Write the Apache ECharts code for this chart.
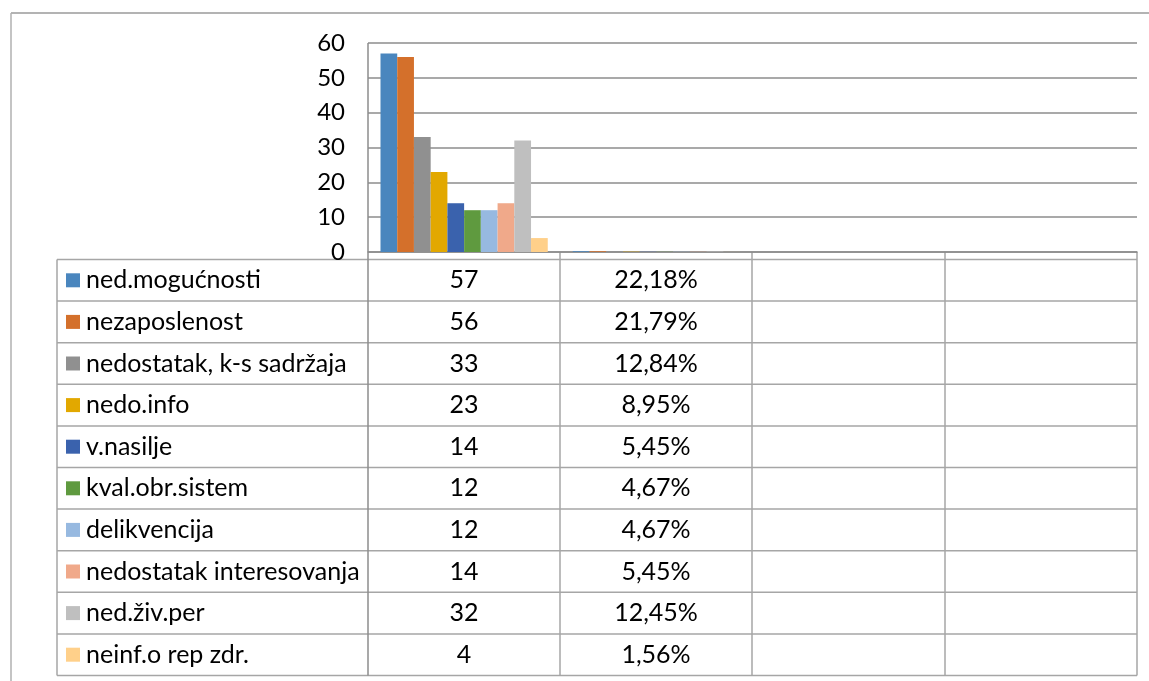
<!DOCTYPE html>
<html>
<head>
<meta charset="utf-8">
<script src="https://cdn.jsdelivr.net/npm/echarts@6/dist/echarts.min.js"></script>
<style>
  html, body { margin: 0; padding: 0; background: #fff; }
  #chart { width: 1149px; height: 681px; }
</style>
</head>
<body>
<div id="chart"></div>
<script>
// data
const categories = ['1', '2', '3', '4']
const seriesNames = ['ned.mogućnosti', 'nezaposlenost', 'nedostatak, k-s sadržaja', 'nedo.info', 'v.nasilje',
  'kval.obr.sistem', 'delikvencija', 'nedostatak interesovanja', 'ned.živ.per', 'neinf.o rep zdr.']
const counts = [57, 56, 33, 23, 14, 12, 12, 14, 32, 4]
const percents = [22.18, 21.79, 12.84, 8.95, 5.45, 4.67, 4.67, 5.45, 12.45, 1.56]
const yTicks = [0, 10, 20, 30, 40, 50, 60]
const colors = ['#4a86be', '#d4702b', '#909090', '#e2a800', '#3a62ad', '#5f9a3f', '#97b9e0', '#f0a98a', '#bfbfbf', '#ffd08a']

const FONT = 'Lato'
const FS = 25
const lineColor = '#a6a6a6'

// layout
const plotL = 368, plotR = 1137, plotT = 43, plotB = 252
const tabL = 57, tabT = 259.5, rowH = 41.6
const colX = [368, 560, 752, 945, 1137]

const chart = echarts.init(document.getElementById('chart'))

const pctText = v => v.toFixed(2).replace('.', ',') + '%'

const graphics = []
const line = (x1, y1, x2, y2, color, w) => graphics.push({
  type: 'line', silent: true,
  shape: { x1, y1, x2, y2 },
  style: { stroke: color || lineColor, lineWidth: w || 1.5 }
})

// outer chart border
line(11, 13, 1149, 13, '#9a9a9a', 1.5)
line(11, 13, 11, 681, '#b0b0b0', 1.5)

const tabB = tabT + rowH * seriesNames.length
// horizontal table lines
for (let i = 0; i <= seriesNames.length; i++) {
  const y = tabT + rowH * i
  line(tabL, y, plotR, y)
}
// vertical table lines
line(tabL, tabT, tabL, tabB)
line(plotL, plotT, plotL, tabB, '#8c8c8c')
colX.slice(1).forEach(x => line(x, plotB, x, tabB))

seriesNames.forEach((name, i) => {
  const cy = tabT + rowH * i + rowH / 2
  graphics.push({ type: 'rect', silent: true, shape: { x: 66, y: cy - 7, width: 14, height: 14 }, style: { fill: colors[i] } })
  graphics.push({ type: 'text', silent: true, x: 86, y: cy,
    style: { text: name, font: FS + 'px ' + FONT, fill: '#000', textVerticalAlign: 'middle' } })
  graphics.push({ type: 'text', silent: true, x: (colX[0] + colX[1]) / 2, y: cy,
    style: { text: String(counts[i]), font: FS + 'px ' + FONT, fill: '#000', textAlign: 'center', textVerticalAlign: 'middle' } })
  graphics.push({ type: 'text', silent: true, x: (colX[1] + colX[2]) / 2, y: cy,
    style: { text: pctText(percents[i]), font: FS + 'px ' + FONT, fill: '#000', textAlign: 'center', textVerticalAlign: 'middle' } })
})

const series = seriesNames.map((name, i) => ({
  name,
  type: 'bar',
  data: [counts[i], percents[i] / 100, null, null],
  itemStyle: { color: colors[i] },
  barGap: '0%',
  barCategoryGap: '13%',
  animation: false
}))

const options = {
  animation: false,
  grid: { left: plotL, right: 1149 - plotR, top: plotT, bottom: 681 - plotB, containLabel: false },
  xAxis: {
    type: 'category',
    data: categories,
    axisLine: { show: true, lineStyle: { color: '#8c8c8c', width: 1.5 } },
    axisTick: { show: false },
    axisLabel: { show: false }
  },
  yAxis: {
    type: 'value',
    min: yTicks[0],
    max: yTicks[yTicks.length - 1],
    interval: 10,
    axisLine: { show: false },
    axisTick: { show: false },
    axisLabel: { fontFamily: FONT, fontSize: 24, color: '#000', margin: 23 },
    splitLine: { lineStyle: { color: '#8c8c8c', width: 1.5 } }
  },
  series,
  graphic: graphics
}

chart.setOption(options)
</script>
</body>
</html>
